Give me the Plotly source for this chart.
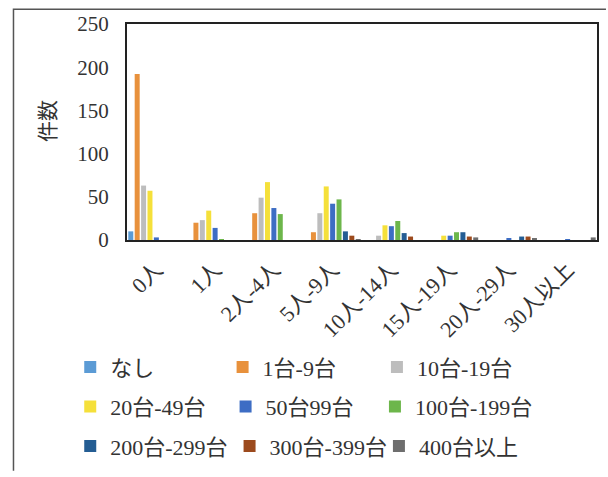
import plotly.graph_objects as go

# staff-size categories (x axis)
categories = ["0人", "1人", "2人-4人", "5人-9人", "10人-14人", "15人-19人", "20人-29人", "30人以上"]

# vehicle-count series
series_names = ["なし", "1台-9台", "10台-19台", "20台-49台", "50台99台",
                "100台-199台", "200台-299台", "300台-399台", "400台以上"]

v_none = [10, 0, 0, 0, 0, 0, 0, 0]
v_1_9 = [192, 20, 31, 9, 0, 0, 0, 0]
v_10_19 = [63, 23, 49, 31, 5, 0, 0, 0]
v_20_49 = [57, 34, 67, 62, 17, 5, 0, 0]
v_50_99 = [3, 14, 37, 42, 16, 5, 2, 1]
v_100_199 = [0, 1, 30, 47, 22, 9, 0, 0]
v_200_299 = [0, 0, 0, 10, 8, 9, 4, 0]
v_300_399 = [0, 0, 0, 5, 4, 4, 4, 0]
v_400_up = [0, 0, 0, 1, 0, 3, 2, 3]

series_values = [v_none, v_1_9, v_10_19, v_20_49, v_50_99,
                 v_100_199, v_200_299, v_300_399, v_400_up]

colors = ["#5B9BD5", "#E8913C", "#BDBDBD", "#F5E03A", "#3D6DC4",
          "#6DB64B", "#245D93", "#9C4A1D", "#6E6E6E"]

FONT = "Liberation Serif, Noto Sans CJK JP, serif"
TEXT = "#333"

# plot area in pixels
W, H = 608, 477
L, R, T, B = 127, 9, 24, 234
pw, ph = W - L - R, H - T - B


def px_x(x):
    return (x - L) / pw


def px_y(y):
    return (H - B - y) / ph


# legend grid: one legend box per entry, three entries per row
legend_cols = [[90, 243, 398], [90, 246, 396], [90, 250, 400]]
legend_rows = [372, 412, 452]

fig = go.Figure()
legend_boxes = {}
for i, (name, vals, col) in enumerate(zip(series_names, series_values, colors)):
    key = "legend" if i == 0 else f"legend{i + 1}"
    r, c = divmod(i, 3)
    legend_boxes[key] = dict(
        orientation="h", xanchor="left", yanchor="middle",
        x=px_x(legend_cols[r][c] - 20), y=px_y(legend_rows[r]),
        font=dict(family=FONT, size=22, color=TEXT),
        bgcolor="rgba(0,0,0,0)", itemclick=False, itemdoubleclick=False,
    )
    fig.add_trace(go.Bar(
        x=categories, y=vals, name=name,
        marker=dict(color=col, line=dict(width=0)),
        legend=key,
    ))

fig.update_layout(
    width=W, height=H,
    margin=dict(l=L, r=R, t=T, b=B),
    paper_bgcolor="white", plot_bgcolor="white",
    barmode="group", bargap=0.02, bargroupgap=0.22,
    font=dict(family=FONT, color=TEXT),
    showlegend=True,
    xaxis=dict(
        showline=True, linecolor="#222", linewidth=2, mirror=True,
        ticks="", tickangle=-45, tickfont=dict(family=FONT, size=22, color=TEXT),
        ticklabelstandoff=6, showgrid=False,
    ),
    yaxis=dict(
        range=[0, 250], dtick=50, showgrid=False, zeroline=False,
        showline=True, linecolor="#222", linewidth=2, mirror=True,
        ticks="", tickfont=dict(family=FONT, size=21, color=TEXT),
        ticklabelstandoff=12,
    ),
    annotations=[dict(
        text="件数", textangle=-90, xref="paper", yref="paper",
        x=px_x(47), y=px_y(122), xanchor="center", yanchor="middle",
        showarrow=False,
        font=dict(family=FONT, size=21, color=TEXT),
    )],
    shapes=[dict(
        type="path", xref="paper", yref="paper",
        path=f"M {px_x(13)} {px_y(H)} L {px_x(13)} {px_y(9)} L {px_x(W)} {px_y(9)}",
        line=dict(color="#555", width=1.5),
    )],
    **legend_boxes,
)

fig.write_html("out.html")
